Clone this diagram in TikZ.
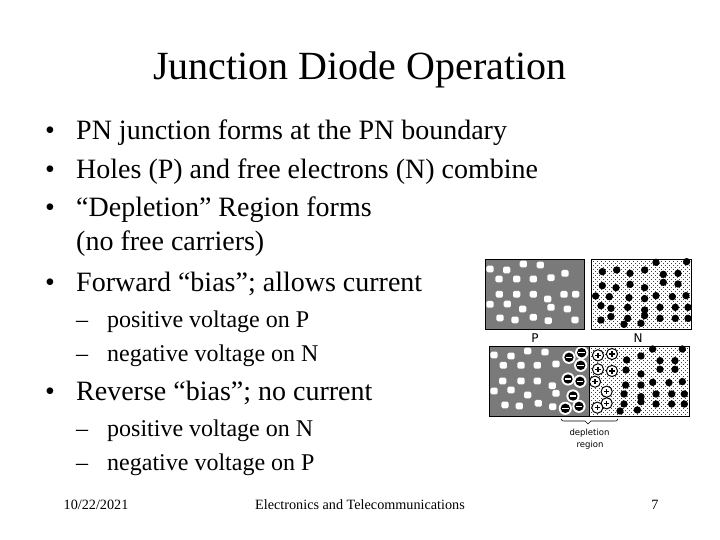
\documentclass[tikz,border=0pt]{standalone}
\usepackage{fontspec}
\setmainfont{Liberation Serif}
\newfontfamily\lblfont{DejaVu Sans}
\tikzset{
  titletext/.style={anchor=base,font=\fontsize{40}{40}\selectfont,inner sep=0},
  bodytext/.style={anchor=base west,font=\fontsize{28}{28}\selectfont,inner sep=0},
  subtext/.style={anchor=base west,font=\fontsize{24}{24}\selectfont,inner sep=0},
  foottext/.style={anchor=base,font=\fontsize{14.2}{14.2}\selectfont,inner sep=0},
  lbl/.style={anchor=center,inner sep=0,font=\lblfont\fontsize{#1}{#1}\selectfont},
  pside/.style={fill=black!52},
  hole/.style={fill=white,draw=none},
  electron/.style={fill=black,draw=none},
  ion/.style={fill=white,draw=black,line width=1pt},
  panelframe/.style={draw=black,line width=.9pt},
}
\newcommand{\holes}[1]{\foreach \p in {#1} \fill[hole,rounded corners=1.5pt] \p ++(-3.6pt,-3.4pt) rectangle ++(7.2pt,6.8pt);}
\newcommand{\electrons}[1]{\foreach \p in {#1} \fill[electron] \p circle[radius=3.7pt];}
\newcommand{\speckle}[4]{\foreach \r in {0,...,17}{
  \pgfmathsetmacro{\ya}{#3+4*\r+.5}\pgfmathsetmacro{\yb}{#3+4*\r+2.5}
  \draw[black!75,line width=1pt,dash pattern=on 1pt off 3pt] (#1,\ya) -- (#2,\ya);
  \draw[black!75,line width=1pt,dash pattern=on 1pt off 3pt] (#1+2,\yb) -- (#2,\yb);
}}
\begin{document}
\begin{tikzpicture}[x=1pt,y=-1pt]
\useasboundingbox (0,0) rectangle (720,540);
\fill[white] (0,0) rectangle (720,540);
% title and text
\node[titletext] (title) at (360,80) {Junction Diode Operation};
\foreach \n/\y/\t in {a/140/PN junction forms at the PN boundary,
  b/179/Holes (P) and free electrons (N) combine,
  c/217/“Depletion” Region forms,
  e/291/Forward “bias”; allows current,
  h/400/Reverse “bias”; no current}
{
  \node[bodytext] (bul\n) at (45,\y) {•};
  \node[bodytext] (txt\n) at (76,\y) {\t};
}
\node[bodytext] (txtd) at (76,251) {(no free carriers)};
\foreach \n/\y/\t in {f/327/positive voltage on P,g/361/negative voltage on N,
  i/436/positive voltage on N,j/470/negative voltage on P}
{
  \node[subtext] (dash\n) at (76,\y) {–};
  \node[subtext] (sub\n) at (107,\y) {\t};
}
\node[foottext] (date) at (96,509) {10/22/2021};
\node[foottext] (foot) at (360,509) {Electronics and Telecommunications};
\node[foottext] (num) at (655,509) {7};
% top panels
\fill[pside] (485,259) rectangle (584,329);
\speckle{591}{691}{259}{329}
\begin{scope}[shift={(480,250)},x=.3333pt,y=-.3333pt]
\holes{(30,57),(80,60),(130,42),(181,45),(57,87),(110,87),(160,87),(213,83),(255,70),(58,133),(110,133),(160,133),(252,133),(287,133),(203,147),(30,163),(82,162),(128,177),(213,172),(262,177),(60,204),(105,210),(160,202),(205,212),(285,210)}
\electrons{(528,37),(620,35),(367,65),(410,60),(450,70),(494,60),(550,73),(594,70),(367,107),(408,113),(450,103),(494,113),(550,97),(594,102),(347,138),(388,140),(447,143),(494,146),(528,137),(577,140),(618,137),(363,167),(393,175),(443,172),(494,180),(540,172),(586,172),(624,172),(363,210),(393,200),(443,205),(494,197),(540,205),(586,205),(624,205),(432,223),(483,220)}
\end{scope}
\draw[panelframe] (485,259) rectangle (584,329);
\draw[panelframe] (591,259) rectangle (691,329);
\node[lbl=12] (P) at (535,338) {P};
\node[lbl=12] (N) at (638,338) {N};
% bottom panel
\fill[pside] (489,346) rectangle (589,416);
\speckle{589}{689}{346}{416}
\begin{scope}[shift={(480,340)},x=.3333pt,y=-.3333pt]
\holes{(42,45),(93,48),(143,33),(195,36),(70,76),(123,76),(172,76),(228,72),(68,123),(123,123),(172,123),(217,137),(42,153),(93,150),(143,165),(228,160),(75,195),(118,198),(175,190),(218,200)}
\electrons{(518,27),(607,27),(440,60),(483,48),(540,62),(585,62),(438,90),(483,102),(540,88),(585,88),(437,135),(483,135),(518,127),(567,128),(607,125),(432,162),(483,170),(528,162),(575,162),(613,162),(432,192),(483,185),(528,192),(575,192),(613,192),(420,213),(472,210)}
\foreach \p in {(305,38),(267,52),(302,76),(264,117),(300,124),(279,168),(256,205),(297,199)}{
  \fill[white] \p circle[radius=6.6pt];
  \fill[black] \p circle[radius=4.7pt];
  \fill[white] \p ++(-10,-2) rectangle ++(20,4);
}
\foreach \p in {(354,46),(396,42),(354,88),(396,93),(345,125),(380,155),(380,190),(352,203)}{
  \draw[ion] \p circle[radius=5.6pt];
  \draw[black,line width=1.3pt] \p ++(-8,0) -- ++(16,0) \p ++(0,-8) -- ++(0,16);
}
\end{scope}
\draw[panelframe] (489,346) rectangle (689,416);
\draw[panelframe] (589,346) -- (589,416);
% bracket
\draw[black,line width=.6pt] (561,419) .. controls (562,421) .. (566,421) -- (585,421) -- (588,424) -- (591,421) -- (613,421) .. controls (617,421) .. (618,419);
\node[lbl=8.5] (dep) at (589.5,433) {depletion};
\node[lbl=8.5] (reg) at (590,445) {region};
\end{tikzpicture}
\end{document}
